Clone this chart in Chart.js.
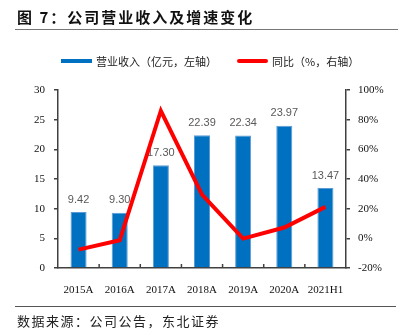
<!DOCTYPE html>
<html>
<head>
<meta charset="utf-8">
<script src="https://cdn.jsdelivr.net/npm/chart.js@4.4.0/dist/chart.umd.min.js"></script>
<style>
  body { margin: 0; background: #fff; }
  #wrap { position: relative; width: 401px; height: 330px; overflow: hidden; }
  #title {
    position: absolute; left: 17px; top: 6px;
    font: bold 15px "Noto Sans CJK SC", sans-serif; letter-spacing: 2px; color: #111;
  }
  #title-line { position: absolute; left: 15px; top: 29px; width: 383px; height: 0; border-top: 1.5px solid #777; }
  #foot-line { position: absolute; left: 15px; top: 306px; width: 381px; height: 0; border-top: 1.5px solid #555; }
  #source {
    position: absolute; left: 17px; top: 311px;
    font: 13px "Noto Sans CJK SC", sans-serif; letter-spacing: 1.5px; color: #222;
  }
  canvas { position: absolute; left: 0; top: 0; }
</style>
</head>
<body>
<div id="wrap">
  <canvas id="chart" width="401" height="330"></canvas>
  <div id="title">图 7：公司营业收入及增速变化</div>
  <div id="title-line"></div>
  <div id="foot-line"></div>
  <div id="source">数据来源：公司公告，东北证券</div>
</div>
<script>
const categories = ['2015A', '2016A', '2017A', '2018A', '2019A', '2020A', '2021H1'];
const revenue = [9.42, 9.30, 17.30, 22.39, 22.34, 23.97, 13.47];
const growth = [-7.6, -1.3, 86.0, 29.4, -0.2, 7.3, 21.2];
const revenueLabel = '营业收入（亿元，左轴）';
const growthLabel = '同比（%，右轴）';

const AXIS_COLOR = '#404040';

// value labels above bars, drawn right after the bars so the line sits on top
const barLabels = {
  id: 'barLabels',
  afterDatasetDraw(chart, args) {
    if (args.index !== 0) return;
    const ctx = chart.ctx;
    ctx.save();
    ctx.font = '11px "Liberation Sans", Arial, sans-serif';
    ctx.fillStyle = '#595959';
    ctx.textAlign = 'center';
    ctx.textBaseline = 'bottom';
    args.meta.data.forEach((bar, i) => {
      ctx.fillText(revenue[i].toFixed(2), bar.x, bar.y - 7);
    });
    ctx.restore();
  }
};

// small inward ticks on the x axis between categories + legend
const extras = {
  id: 'extras',
  afterDraw(chart) {
    const ctx = chart.ctx;
    const x = chart.scales.x;
    const bottom = chart.chartArea.bottom;
    ctx.save();
    ctx.strokeStyle = AXIS_COLOR;
    ctx.lineWidth = 1.5;
    for (let i = 1; i < categories.length; i++) {
      const px = (x.getPixelForTick(i - 1) + x.getPixelForTick(i)) / 2;
      ctx.beginPath();
      ctx.moveTo(px, bottom);
      ctx.lineTo(px, bottom - 4);
      ctx.stroke();
    }

    // legend
    ctx.font = '11px "Noto Sans CJK SC", sans-serif';
    ctx.fillStyle = '#222';
    ctx.textBaseline = 'middle';
    ctx.fillStyle = '#0070C0';
    ctx.fillRect(61, 59, 31, 4);
    ctx.fillStyle = '#222';
    ctx.fillText(revenueLabel, 96, 61.5);
    ctx.strokeStyle = '#FF0000';
    ctx.lineWidth = 4;
    ctx.lineCap = 'round';
    ctx.beginPath();
    ctx.moveTo(239, 61);
    ctx.lineTo(266, 61);
    ctx.stroke();
    ctx.fillText(growthLabel, 272, 61.5);
    ctx.restore();
  }
};

new Chart(document.getElementById('chart'), {
  data: {
    labels: categories,
    datasets: [
      {
        type: 'bar',
        label: revenueLabel,
        data: revenue,
        yAxisID: 'y',
        backgroundColor: '#0070C0',
        borderColor: '#5b9bd5',
        borderWidth: { left: 1, right: 1, top: 1, bottom: 0 },
        barPercentage: 0.39,
        categoryPercentage: 1,
        order: 2
      },
      {
        type: 'line',
        label: growthLabel,
        data: growth,
        yAxisID: 'y1',
        borderColor: '#FF0000',
        borderWidth: 4,
        pointRadius: 0,
        tension: 0,
        order: 1
      }
    ]
  },
  options: {
    responsive: false,
    animation: false,
    layout: { padding: { top: 90, left: 0, right: 0, bottom: 0 } },
    plugins: {
      legend: { display: false },
      tooltip: { enabled: false }
    },
    scales: {
      x: {
        grid: { display: false },
        border: { color: AXIS_COLOR, width: 1.5 },
        ticks: {
          color: '#111',
          padding: 8,
          maxRotation: 0,
          font: { family: '"Liberation Serif", "Times New Roman", serif', size: 11 }
        },
        afterFit(scale) { scale.height = 62; }
      },
      y: {
        position: 'left',
        min: 0,
        max: 30,
        ticks: {
          stepSize: 5,
          color: '#111',
          padding: 9,
          font: { family: '"Liberation Serif", "Times New Roman", serif', size: 11 }
        },
        grid: { drawOnChartArea: false, drawTicks: true, tickLength: 4, color: AXIS_COLOR, lineWidth: 1.5 },
        border: { color: AXIS_COLOR, width: 1.5 },
        afterFit(scale) { scale.width = 58; }
      },
      y1: {
        position: 'right',
        min: -20,
        max: 100,
        ticks: {
          stepSize: 20,
          color: '#111',
          padding: 8,
          font: { family: '"Liberation Serif", "Times New Roman", serif', size: 11 },
          callback: v => v + '%'
        },
        grid: { drawOnChartArea: false, drawTicks: true, tickLength: 4, color: AXIS_COLOR, lineWidth: 1.5 },
        border: { color: AXIS_COLOR, width: 1.5 },
        afterFit(scale) { scale.width = 55; }
      }
    }
  },
  plugins: [barLabels, extras]
});
</script>
</body>
</html>
